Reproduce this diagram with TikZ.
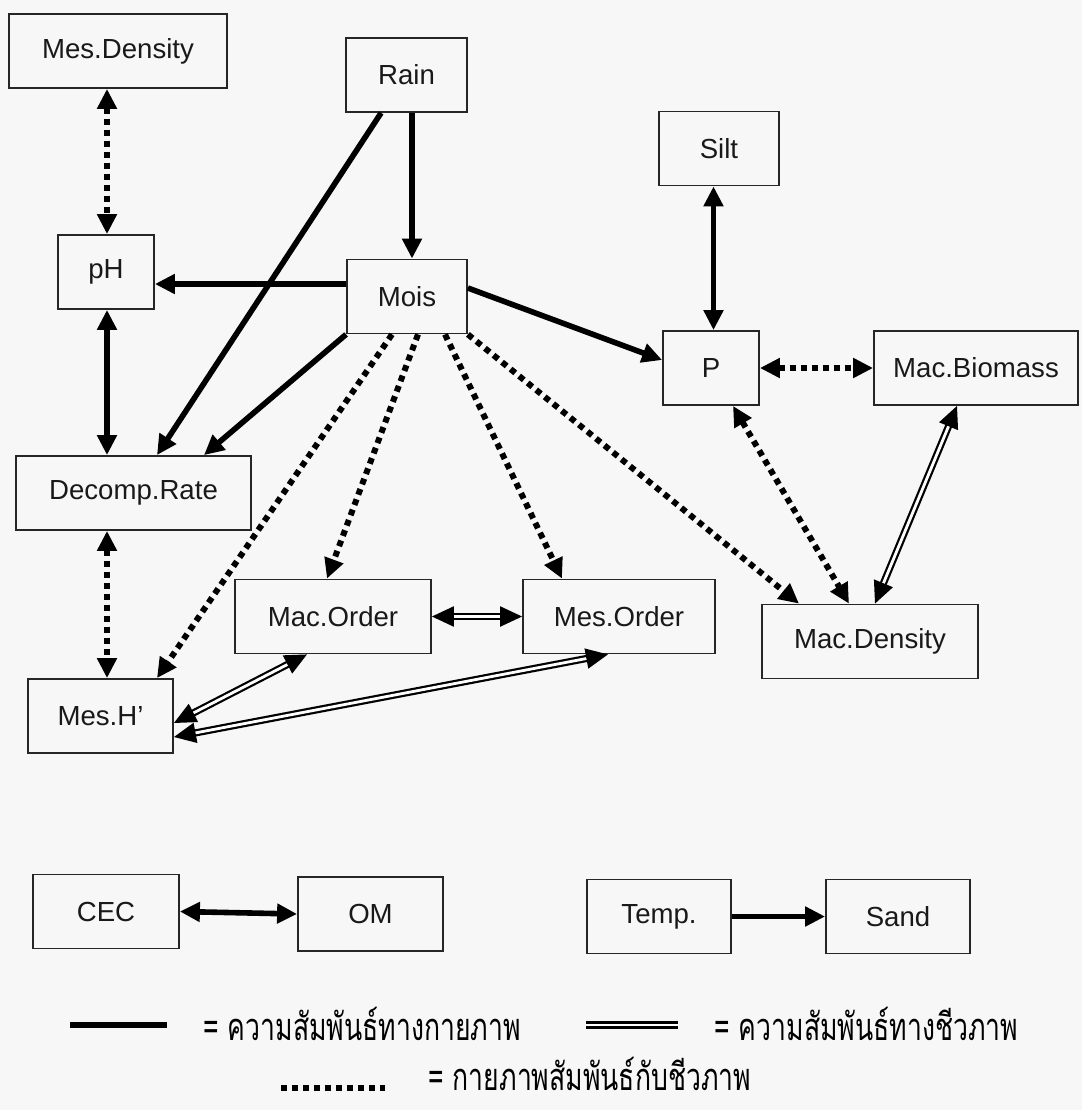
\documentclass[tikz,border=0pt]{standalone}
\usepackage{fontspec}
\setmainfont{Liberation Sans}
\newfontfamily\thaifont[Script=Thai,FakeStretch=0.7]{Loma}
\usetikzlibrary{arrows.meta}
\usetikzlibrary{calc}

\begin{document}
\begin{tikzpicture}[x=0.5pt, y=-0.5pt,
    >={Triangle[length=10pt,width=9.5pt]},
    box/.style={draw=black!85, line width=0.9pt, minimum height=37pt, inner sep=0pt,
      font=\fontsize{13.8}{15}\selectfont, text=black!90},
    phys/.style={line width=2.8pt},
    mixed/.style={line width=3pt, dash pattern=on 3pt off 2.5pt},
    bio/.style={line width=1.1pt, double, double distance=1.4pt,
      >={Triangle[length=11pt,width=10pt]}},
    legendtext/.style={anchor=base west, inner sep=0pt, font=\thaifont\fontsize{19}{21}\selectfont}]
      \fill[black!3] (0,0) rectangle (1082,1110);
      \useasboundingbox (0,0) rectangle (1082,1110);

      % variables
      \node[box, minimum width=109pt]   (mesdens) at (118,51)      {Mes.Density};
      \node[box, minimum width=60.5pt]  (rain)    at (406.5,75)    {Rain};
      \node[box, minimum width=60pt]    (silt)    at (719,148.5)   {Silt};
      \node[box, minimum width=48pt]    (ph)      at (106,272)     {pH};
      \node[box, minimum width=60pt]    (mois)    at (407,296.5)   {Mois};
      \node[box, minimum width=48pt]    (P)       at (711,368)     {P};
      \node[box, minimum width=102pt]   (macbio)  at (976,368)     {Mac.Biomass};
      \node[box, minimum width=117.5pt] (decomp)  at (133.5,493)   {Decomp.Rate};
      \node[box, minimum width=98pt]    (macord)  at (333,616.5)   {Mac.Order};
      \node[box, minimum width=96pt]    (mesord)  at (619,616.5)   {Mes.Order};
      \node[box, minimum width=108pt]   (macdens) at (870,641.5)   {Mac.Density};
      \node[box, minimum width=72.5pt]  (mesh)    at (100.5,716)   {Mes.H’};
      \node[box, minimum width=73pt]    (cec)     at (106,911.5)   {CEC};
      \node[box, minimum width=72.5pt]  (om)      at (370.5,914)   {OM};
      \node[box, minimum width=72pt]    (temp)    at (659,916.5)   {Temp.};
      \node[box, minimum width=72pt]    (sand)    at (898,916.5)   {Sand};

      % physical links
      \draw[phys,->] ($(rain.south)+(5.5,0)$) -- ($(mois.north)+(5,0)$);
      \draw[phys,->] ($(rain.south west)+(36,0)$) -- ($(decomp.north)+(23.5,0)$);
      \draw[phys,->] ($(mois.west)+(0,-12.5)$) -- ($(ph.east)+(0,12)$);
      \draw[phys,->] (mois.south west) -- ($(decomp.north)+(70.5,0)$);
      \draw[phys,->] ($(mois.east)+(0,-8.5)$) -- ($(P.west)+(0,-8)$);
      \draw[phys,<->] ($(silt.south)+(-5.5,0)$) -- ($(P.north)+(2.5,0)$);
      \draw[phys,<->] ($(ph.south)+(1,0)$) -- ($(decomp.north)+(-26.5,0)$);
      \draw[phys,<->] (cec.east) -- (om.west);
      \draw[phys,->] (temp.east) -- (sand.west);

      % physical-biological links
      \draw[mixed,<->] ($(mesdens.south)+(-11,0)$) -- ($(ph.north)+(1,0)$);
      \draw[mixed,<->] ($(decomp.south)+(-26.5,0)$) -- ($(mesh.north)+(6.5,0)$);
      \draw[mixed,->] ($(mois.south)+(-15,0)$) -- ($(mesh.north)+(56.5,0)$);
      \draw[mixed,->] ($(mois.south)+(11,0)$) -- ($(macord.north)+(-6,0)$);
      \draw[mixed,->] ($(mois.south)+(38,0)$) -- ($(mesord.north)+(-57,0)$);
      \draw[mixed,->] (mois.south east) -- ($(macdens.north)+(-71,0)$);
      \draw[mixed,<->] (P.east) -- (macbio.west);
      \draw[mixed,<->] ($(P.south)+(22,0)$) -- ($(macdens.north)+(-21,0)$);

      % biological links
      \draw[bio,<->] ($(macbio.south)+(-19,0)$) -- ($(macdens.north)+(5,0)$);
      \draw[bio,<->] (macord.east) -- (mesord.west);
      \draw[bio,<->] ($(mesh.east)+(0,7)$) -- ($(macord.south)+(-26,0)$);
      \draw[bio,<->] ($(mesh.east)+(0,21)$) -- ($(mesord.south)+(-11,0)$);

      % legend
      \coordinate (s1) at (70,1025);  \coordinate (s2) at (167,1025);
      \coordinate (d1) at (586,1025); \coordinate (d2) at (678,1025);
      \coordinate (m1) at (281,1088); \coordinate (m2) at (385,1088);
      \draw[phys, line width=3pt] (s1) -- (s2);
      \draw[bio] (d1) -- (d2);
      \draw[mixed] (m1) -- (m2);
      \node[legendtext] (t1) at (203,1040) {= ความสัมพันธ์ทางกายภาพ};
      \node[legendtext] (t2) at (714,1040) {= ความสัมพันธ์ทางชีวภาพ};
      \node[legendtext] (t3) at (428,1090) {= กายภาพสัมพันธ์กับชีวภาพ};
    \end{tikzpicture}
\end{document}
